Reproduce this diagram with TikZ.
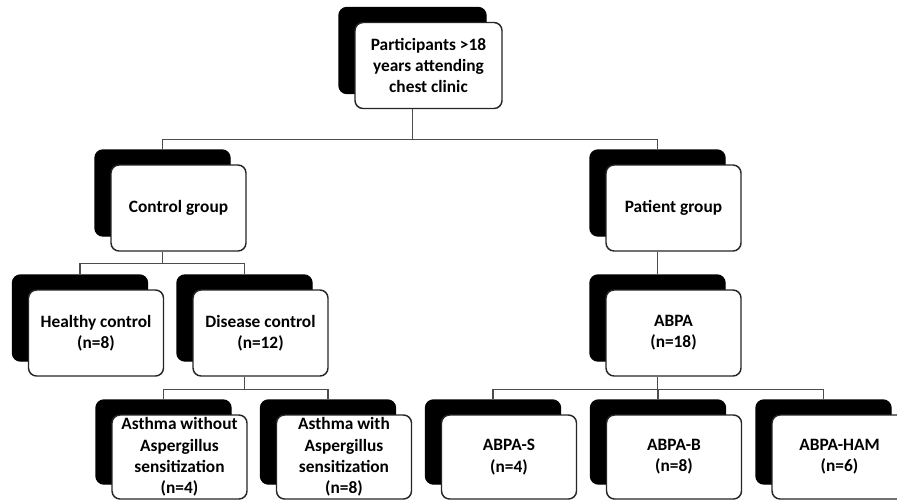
\documentclass[tikz,border=0pt]{standalone}
\usepackage{fontspec}
\setmainfont{Carlito}
\usetikzlibrary{shadows}
\begin{document}
\begin{tikzpicture}[x=0.75pt,y=-0.75pt,
  box/.style={draw=black!85, line width=1.1pt, fill=white, rounded corners=6pt,
    minimum width=101.25pt, minimum height=64.5pt, inner sep=0pt, align=center,
    font=\bfseries\fontsize{13}{16}\selectfont,
    general shadow={fill=black, draw=black, shadow xshift=-12pt, shadow yshift=11.25pt}},
  conn/.style={draw=black!70, line width=0.8pt}]
\useasboundingbox (0,0) rectangle (897,500);
\clip (0,0) rectangle (897,500);
\node[box, minimum width=110.25pt] (top) at (428.5,65.5) {Participants >18\\years attending\\chest clinic};
\node[box] (ctrl) at (178.5,208) {Control group};
\node[box] (pat) at (673.5,208) {Patient group};
\node[box] (hc) at (96,333) {Healthy control\\(n=8)};
\node[box] (dc) at (260.5,333) {Disease control\\(n=12)};
\node[box] (abpa) at (673.5,333) {ABPA\\(n=18)};
\node[box, minimum height=63pt] (aw) at (179.5,457) {Asthma without\\Aspergillus\\sensitization\\(n=4)};
\node[box, minimum height=63pt] (aa) at (344,457) {Asthma with\\Aspergillus\\sensitization\\(n=8)};
\node[box, minimum height=63pt] (s) at (509,457) {ABPA-S\\(n=4)};
\node[box, minimum height=63pt] (b) at (674,457) {ABPA-B\\(n=8)};
\node[box, minimum height=63pt] (ham) at (839.5,457) {ABPA-HAM\\(n=6)};
% connectors
\draw[conn] ([xshift=-12pt]top.south) -- ++(0,30) coordinate (bus1) -| ([xshift=-12pt,yshift=11.25pt]ctrl.north);
\draw[conn] (bus1) -| ([xshift=-12pt,yshift=11.25pt]pat.north);
\draw[conn] ([xshift=-12pt]ctrl.south) -- ++(0,12) coordinate (bus2) -| ([xshift=-12pt,yshift=11.25pt]hc.north);
\draw[conn] (bus2) -| ([xshift=-12pt,yshift=11.25pt]dc.north);
\draw[conn] ([xshift=-12pt]pat.south) -- ([xshift=-12pt,yshift=11.25pt]abpa.north);
\draw[conn] ([xshift=-12pt]dc.south) -- ++(0,13) coordinate (bus3) -| ([xshift=-12pt,yshift=11.25pt]aw.north);
\draw[conn] (bus3) -| ([xshift=-12pt,yshift=11.25pt]aa.north);
\draw[conn] ([xshift=-12pt]abpa.south) -- ++(0,13) coordinate (bus4) -| ([xshift=-12pt,yshift=11.25pt]s.north);
\draw[conn] (bus4) -| ([xshift=-12pt,yshift=11.25pt]b.north);
\draw[conn] (bus4) -| ([xshift=-12pt,yshift=11.25pt]ham.north);
\end{tikzpicture}
\end{document}
